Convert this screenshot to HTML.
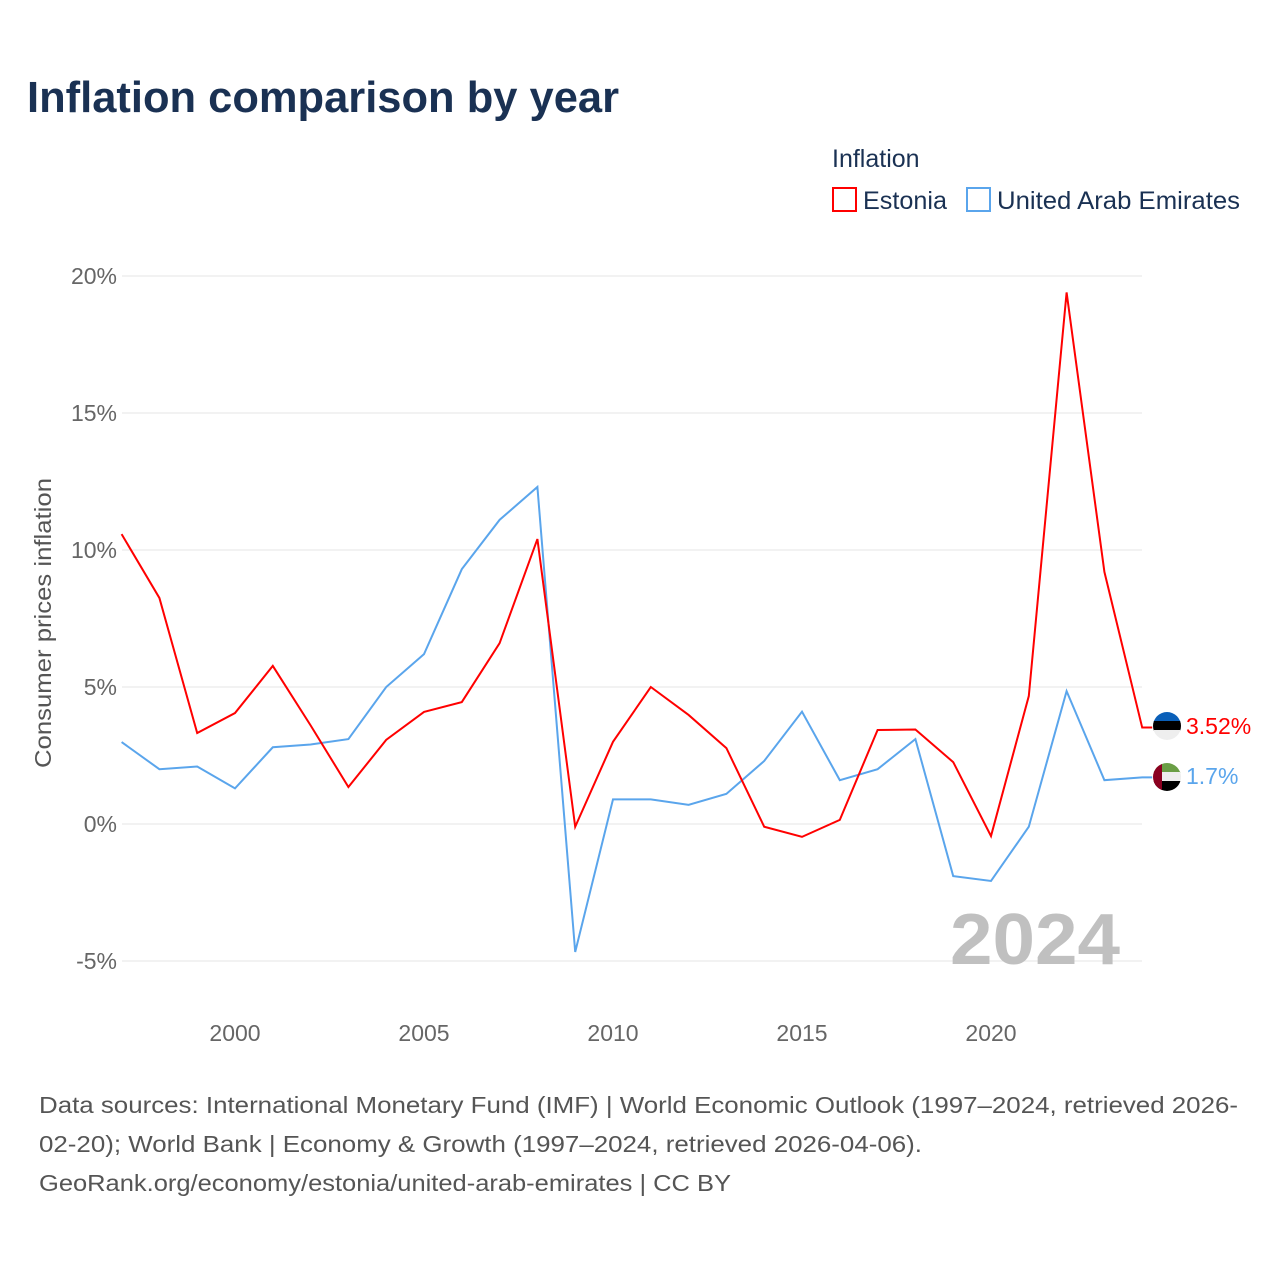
<!DOCTYPE html>
<html><head><meta charset="utf-8"><style>
body{margin:0;background:#fff;font-family:"Liberation Sans",sans-serif;}
</style></head><body>
<svg width="1280" height="1280" xmlns="http://www.w3.org/2000/svg" id="chart">
<text x="27" y="112" font-size="44" font-weight="bold" fill="#1a3153" textLength="592" lengthAdjust="spacingAndGlyphs">Inflation comparison by year</text>
<text x="832" y="167" font-size="25" fill="#1a3153">Inflation</text>
<g><rect x="833" y="188" width="23" height="23" fill="none" stroke="#f00" stroke-width="2"/><text x="863" y="209" font-size="25" fill="#1a3153" textLength="84" lengthAdjust="spacingAndGlyphs">Estonia</text></g>
<g><rect x="967" y="188" width="23" height="23" fill="none" stroke="#5aa5ec" stroke-width="2"/><text x="997" y="209" font-size="25" fill="#1a3153" textLength="243" lengthAdjust="spacingAndGlyphs">United Arab Emirates</text></g>
<text transform="translate(51,623) rotate(-90)" text-anchor="middle" font-size="23" fill="#555" textLength="290" lengthAdjust="spacingAndGlyphs">Consumer prices inflation</text>
<g id="grid"></g><g id="lines"></g>
<text x="1120" y="964" text-anchor="end" font-size="72" font-weight="bold" fill="#c0c0c0" textLength="170" lengthAdjust="spacingAndGlyphs">2024</text>
<g><clipPath id="c1"><circle cx="1167" cy="726" r="14"/></clipPath><g clip-path="url(#c1)"><rect x="1153" y="712" width="28" height="10" fill="#0a5fb8"/><rect x="1153" y="721" width="28" height="10" fill="#000"/><rect x="1153" y="730" width="28" height="10" fill="#eee"/></g></g>
<g><clipPath id="c2"><circle cx="1167" cy="777" r="14"/></clipPath><g clip-path="url(#c2)"><rect x="1153" y="763" width="28" height="10" fill="#6a9e45"/><rect x="1153" y="772" width="28" height="10" fill="#eee"/><rect x="1153" y="781" width="28" height="10" fill="#000"/><rect x="1153" y="763" width="9" height="28" fill="#8b0020"/></g></g>
<text x="1186" y="734" font-size="23" fill="#f00">3.52%</text>
<text x="1186" y="784" font-size="23" fill="#5aa5ec">1.7%</text>
<g font-size="23" fill="#555">
<text x="39" y="1113" textLength="1199" lengthAdjust="spacingAndGlyphs">Data sources: International Monetary Fund (IMF) | World Economic Outlook (1997–2024, retrieved 2026-</text>
<text x="39" y="1152" textLength="883" lengthAdjust="spacingAndGlyphs">02-20); World Bank | Economy &amp; Growth (1997–2024, retrieved 2026-04-06).</text>
<text x="39" y="1191" textLength="692" lengthAdjust="spacingAndGlyphs">GeoRank.org/economy/estonia/united-arab-emirates | CC BY</text>
</g>
</svg>
<script>
const years=[1997,1998,1999,2000,2001,2002,2003,2004,2005,2006,2007,2008,2009,2010,2011,2012,2013,2014,2015,2016,2017,2018,2019,2020,2021,2022,2023,2024];
const estonia=[10.58,8.25,3.32,4.05,5.77,3.6,1.35,3.07,4.09,4.45,6.6,10.4,-0.1,3.0,5.0,3.98,2.77,-0.1,-0.47,0.15,3.43,3.45,2.26,-0.44,4.67,19.4,9.2,3.52];
const uae=[2.99,2.0,2.1,1.3,2.8,2.9,3.1,5.0,6.2,9.3,11.1,12.3,-4.67,0.9,0.9,0.7,1.1,2.3,4.1,1.6,2.0,3.1,-1.9,-2.08,-0.1,4.85,1.6,1.7];
const yTicks=[-5,0,5,10,15,20];
const xTicks=[2000,2005,2010,2015,2020];
const NS="http://www.w3.org/2000/svg";
const x=v=>121.6+(v-1997)*37.8;
const y=v=>824-v*27.4;
const grid=document.getElementById('grid'),lines=document.getElementById('lines');
yTicks.forEach(t=>{
 const l=document.createElementNS(NS,'line');
 l.setAttribute('x1',122);l.setAttribute('x2',1142);l.setAttribute('y1',y(t));l.setAttribute('y2',y(t));
 l.setAttribute('stroke','#e6e6e6');l.setAttribute('stroke-width',1);
 
 
 grid.appendChild(l);
 const tx=document.createElementNS(NS,'text');
 tx.setAttribute('x',117);tx.setAttribute('y',y(t)+8);tx.setAttribute('text-anchor','end');
 tx.setAttribute('font-size',23);tx.setAttribute('fill','#666');tx.textContent=t+'%';
 
 
 grid.appendChild(tx);
});
xTicks.forEach(t=>{
 const tx=document.createElementNS(NS,'text');
 tx.setAttribute('x',x(t));tx.setAttribute('y',1041);tx.setAttribute('text-anchor','middle');
 tx.setAttribute('font-size',23);tx.setAttribute('fill','#666');tx.textContent=t;
 
 
 grid.appendChild(tx);
});
function draw(vals,color,name){
 const p=document.createElementNS(NS,'polyline');
 let pts=vals.map((v,i)=>x(years[i])+','+y(v));
 pts.push((x(years[years.length-1])+10)+','+y(vals[vals.length-1]));
 p.setAttribute('points',pts.join(' '));
 p.setAttribute('fill','none');p.setAttribute('stroke',color);p.setAttribute('stroke-width',2);
 
 
 lines.appendChild(p);
}
draw(uae,'#5aa5ec','uae-line');
draw(estonia,'#f00','estonia-line');
</script>
</body></html>
